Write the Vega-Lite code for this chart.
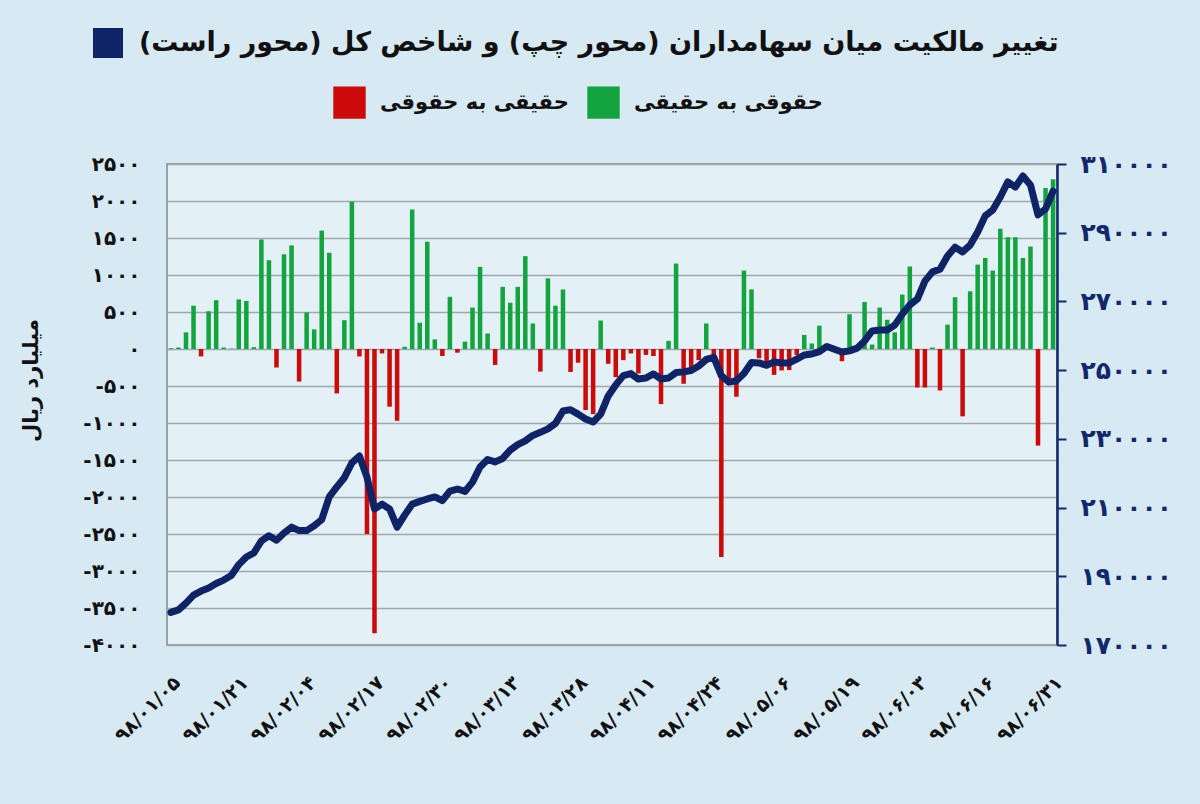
{
  "$schema": "https://vega.github.io/schema/vega-lite/v6.json",
  "width": 890,
  "height": 481,
  "autosize": {"type": "none"},
  "padding": {"left": 167, "top": 164, "right": 143, "bottom": 159},
  "background": "#d7e9f2",
  "config": {
    "font": "DejaVu Sans",
    "view": {"fill": "#e3f0f6", "stroke": "#97a2a8", "strokeWidth": 2}
  },
  "data": {
    "values": [
      {"date": "۹۸/۰۱/۰۵", "flow": 10, "index": 179500},
      {"date": "۹۸/۰۱/۰۶", "flow": 20, "index": 180200},
      {"date": "۹۸/۰۱/۰۷", "flow": 225, "index": 182200},
      {"date": "۹۸/۰۱/۱۰", "flow": 585, "index": 184500},
      {"date": "۹۸/۰۱/۱۱", "flow": -100, "index": 185700},
      {"date": "۹۸/۰۱/۱۷", "flow": 510, "index": 186600},
      {"date": "۹۸/۰۱/۱۸", "flow": 660, "index": 187900},
      {"date": "۹۸/۰۱/۱۹", "flow": 20, "index": 188900},
      {"date": "۹۸/۰۱/۲۰", "flow": 5, "index": 190200},
      {"date": "۹۸/۰۱/۲۱", "flow": 670, "index": 193400},
      {"date": "۹۸/۰۱/۲۴", "flow": 650, "index": 195600},
      {"date": "۹۸/۰۱/۲۵", "flow": 25, "index": 196800},
      {"date": "۹۸/۰۱/۲۶", "flow": 1480, "index": 200300},
      {"date": "۹۸/۰۱/۲۷", "flow": 1200, "index": 201800},
      {"date": "۹۸/۰۱/۲۸", "flow": -250, "index": 200500},
      {"date": "۹۸/۰۲/۰۱", "flow": 1280, "index": 202600},
      {"date": "۹۸/۰۲/۰۲", "flow": 1400, "index": 204300},
      {"date": "۹۸/۰۲/۰۳", "flow": -440, "index": 203300},
      {"date": "۹۸/۰۲/۰۴", "flow": 495, "index": 203300},
      {"date": "۹۸/۰۲/۰۷", "flow": 265, "index": 204700},
      {"date": "۹۸/۰۲/۰۸", "flow": 1600, "index": 206500},
      {"date": "۹۸/۰۲/۰۹", "flow": 1300, "index": 213100},
      {"date": "۹۸/۰۲/۱۰", "flow": -600, "index": 216000},
      {"date": "۹۸/۰۲/۱۱", "flow": 390, "index": 218700},
      {"date": "۹۸/۰۲/۱۴", "flow": 1990, "index": 223000},
      {"date": "۹۸/۰۲/۱۵", "flow": -100, "index": 225000},
      {"date": "۹۸/۰۲/۱۶", "flow": -2500, "index": 218900},
      {"date": "۹۸/۰۲/۱۷", "flow": -3840, "index": 209600},
      {"date": "۹۸/۰۲/۱۸", "flow": -60, "index": 211000},
      {"date": "۹۸/۰۲/۲۱", "flow": -780, "index": 209600},
      {"date": "۹۸/۰۲/۲۲", "flow": -970, "index": 204300},
      {"date": "۹۸/۰۲/۲۳", "flow": 30, "index": 207800},
      {"date": "۹۸/۰۲/۲۴", "flow": 1885, "index": 211000},
      {"date": "۹۸/۰۲/۲۵", "flow": 355, "index": 211800},
      {"date": "۹۸/۰۲/۲۸", "flow": 1450, "index": 212500},
      {"date": "۹۸/۰۲/۲۹", "flow": 130, "index": 213100},
      {"date": "۹۸/۰۲/۳۰", "flow": -95, "index": 212000},
      {"date": "۹۸/۰۲/۳۱", "flow": 705, "index": 214800},
      {"date": "۹۸/۰۳/۰۱", "flow": -50, "index": 215400},
      {"date": "۹۸/۰۳/۰۴", "flow": 100, "index": 214700},
      {"date": "۹۸/۰۳/۰۵", "flow": 560, "index": 217400},
      {"date": "۹۸/۰۳/۰۷", "flow": 1110, "index": 221800},
      {"date": "۹۸/۰۳/۰۸", "flow": 210, "index": 224000},
      {"date": "۹۸/۰۳/۱۱", "flow": -215, "index": 223300},
      {"date": "۹۸/۰۳/۱۲", "flow": 840, "index": 224300},
      {"date": "۹۸/۰۳/۱۳", "flow": 625, "index": 226700},
      {"date": "۹۸/۰۳/۱۸", "flow": 840, "index": 228300},
      {"date": "۹۸/۰۳/۱۹", "flow": 1255, "index": 229400},
      {"date": "۹۸/۰۳/۲۰", "flow": 345, "index": 231000},
      {"date": "۹۸/۰۳/۲۱", "flow": -305, "index": 231900},
      {"date": "۹۸/۰۳/۲۲", "flow": 955, "index": 232900},
      {"date": "۹۸/۰۳/۲۵", "flow": 585, "index": 234500},
      {"date": "۹۸/۰۳/۲۶", "flow": 805, "index": 238100},
      {"date": "۹۸/۰۳/۲۷", "flow": -310, "index": 238500},
      {"date": "۹۸/۰۳/۲۸", "flow": -185, "index": 237200},
      {"date": "۹۸/۰۳/۲۹", "flow": -825, "index": 235800},
      {"date": "۹۸/۰۴/۰۱", "flow": -880, "index": 234900},
      {"date": "۹۸/۰۴/۰۲", "flow": 385, "index": 237200},
      {"date": "۹۸/۰۴/۰۳", "flow": -200, "index": 242500},
      {"date": "۹۸/۰۴/۰۴", "flow": -380, "index": 245700},
      {"date": "۹۸/۰۴/۰۸", "flow": -150, "index": 248400},
      {"date": "۹۸/۰۴/۰۹", "flow": -60, "index": 249000},
      {"date": "۹۸/۰۴/۱۰", "flow": -330, "index": 247400},
      {"date": "۹۸/۰۴/۱۱", "flow": -80, "index": 247700},
      {"date": "۹۸/۰۴/۱۲", "flow": -95, "index": 248900},
      {"date": "۹۸/۰۴/۱۵", "flow": -745, "index": 247400},
      {"date": "۹۸/۰۴/۱۶", "flow": 110, "index": 247700},
      {"date": "۹۸/۰۴/۱۷", "flow": 1155, "index": 249300},
      {"date": "۹۸/۰۴/۱۸", "flow": -470, "index": 249500},
      {"date": "۹۸/۰۴/۱۹", "flow": -275, "index": 249900},
      {"date": "۹۸/۰۴/۲۲", "flow": -150, "index": 251200},
      {"date": "۹۸/۰۴/۲۳", "flow": 345, "index": 253100},
      {"date": "۹۸/۰۴/۲۴", "flow": -95, "index": 253700},
      {"date": "۹۸/۰۴/۲۵", "flow": -2810, "index": 248400},
      {"date": "۹۸/۰۴/۲۶", "flow": -395, "index": 246500},
      {"date": "۹۸/۰۴/۲۹", "flow": -645, "index": 246900},
      {"date": "۹۸/۰۴/۳۰", "flow": 1060, "index": 249000},
      {"date": "۹۸/۰۴/۳۱", "flow": 805, "index": 252200},
      {"date": "۹۸/۰۵/۰۱", "flow": -125, "index": 252100},
      {"date": "۹۸/۰۵/۰۲", "flow": -215, "index": 251400},
      {"date": "۹۸/۰۵/۰۵", "flow": -350, "index": 252400},
      {"date": "۹۸/۰۵/۰۶", "flow": -290, "index": 252100},
      {"date": "۹۸/۰۵/۰۷", "flow": -285, "index": 252100},
      {"date": "۹۸/۰۵/۰۸", "flow": -80, "index": 253200},
      {"date": "۹۸/۰۵/۰۹", "flow": 190, "index": 254400},
      {"date": "۹۸/۰۵/۱۲", "flow": 75, "index": 254700},
      {"date": "۹۸/۰۵/۱۳", "flow": 315, "index": 255400},
      {"date": "۹۸/۰۵/۱۴", "flow": 40, "index": 256900},
      {"date": "۹۸/۰۵/۱۵", "flow": 20, "index": 256100},
      {"date": "۹۸/۰۵/۱۶", "flow": -165, "index": 255300},
      {"date": "۹۸/۰۵/۱۹", "flow": 470, "index": 255600},
      {"date": "۹۸/۰۵/۲۰", "flow": 10, "index": 256400},
      {"date": "۹۸/۰۵/۲۲", "flow": 635, "index": 258500},
      {"date": "۹۸/۰۵/۲۳", "flow": 60, "index": 261400},
      {"date": "۹۸/۰۵/۲۶", "flow": 560, "index": 261700},
      {"date": "۹۸/۰۵/۲۷", "flow": 395, "index": 261700},
      {"date": "۹۸/۰۵/۲۸", "flow": 225, "index": 263100},
      {"date": "۹۸/۰۵/۳۰", "flow": 735, "index": 266300},
      {"date": "۹۸/۰۶/۰۲", "flow": 1115, "index": 269000},
      {"date": "۹۸/۰۶/۰۳", "flow": -520, "index": 270700},
      {"date": "۹۸/۰۶/۰۴", "flow": -520, "index": 275900},
      {"date": "۹۸/۰۶/۰۵", "flow": 20, "index": 278600},
      {"date": "۹۸/۰۶/۰۶", "flow": -560, "index": 279400},
      {"date": "۹۸/۰۶/۰۹", "flow": 330, "index": 283200},
      {"date": "۹۸/۰۶/۱۰", "flow": 700, "index": 285800},
      {"date": "۹۸/۰۶/۱۱", "flow": -910, "index": 284400},
      {"date": "۹۸/۰۶/۱۲", "flow": 780, "index": 286400},
      {"date": "۹۸/۰۶/۱۳", "flow": 1140, "index": 290200},
      {"date": "۹۸/۰۶/۱۶", "flow": 1230, "index": 294900},
      {"date": "۹۸/۰۶/۱۷", "flow": 1060, "index": 296600},
      {"date": "۹۸/۰۶/۲۰", "flow": 1625, "index": 300400},
      {"date": "۹۸/۰۶/۲۳", "flow": 1510, "index": 304800},
      {"date": "۹۸/۰۶/۲۴", "flow": 1510, "index": 303300},
      {"date": "۹۸/۰۶/۲۵", "flow": 1230, "index": 306500},
      {"date": "۹۸/۰۶/۲۶", "flow": 1385, "index": 303900},
      {"date": "۹۸/۰۶/۲۷", "flow": -1305, "index": 295200},
      {"date": "۹۸/۰۶/۳۰", "flow": 2175, "index": 296900},
      {"date": "۹۸/۰۶/۳۱", "flow": 2295, "index": 302100}
    ]
  },
  "transform": [
    {"calculate": "datum.flow >= 0 ? 'حقوقی به حقیقی' : 'حقیقی به حقوقی'", "as": "type"}
  ],
  "encoding": {
    "x": {
      "field": "date",
      "type": "ordinal",
      "sort": null,
      "scale": {"paddingInner": 0.4, "paddingOuter": 0.22},
      "axis": {
        "title": null,
        "values": ["۹۸/۰۱/۰۵", "۹۸/۰۱/۲۱", "۹۸/۰۲/۰۴", "۹۸/۰۲/۱۷", "۹۸/۰۲/۳۰", "۹۸/۰۳/۱۳", "۹۸/۰۳/۲۸", "۹۸/۰۴/۱۱", "۹۸/۰۴/۲۴", "۹۸/۰۵/۰۶", "۹۸/۰۵/۱۹", "۹۸/۰۶/۰۳", "۹۸/۰۶/۱۶", "۹۸/۰۶/۳۱"],
        "labelAngle": -45,
        "labelFontSize": 19,
        "labelFontWeight": "bold",
        "labelColor": "#111111",
        "labelPadding": 28,
        "ticks": false,
        "domain": false
      }
    }
  },
  "layer": [
    {
      "mark": {"type": "bar"},
      "encoding": {
        "y": {
          "field": "flow",
          "type": "quantitative",
          "scale": {"domain": [-4000, 2500], "nice": false},
          "axis": {
            "title": "میلیارد ریال",
            "titleFontSize": 21,
            "titleFontWeight": "bold",
            "titleColor": "#111111",
            "titleX": -126,
            "titleY": 216,
            "values": [-4000, -3500, -3000, -2500, -2000, -1500, -1000, -500, 0, 500, 1000, 1500, 2000, 2500],
            "labelExpr": "replace(replace(replace(replace(replace(replace(replace(replace(replace(replace('' + datum.value, regexp('0', 'g'), '۰'), regexp('1', 'g'), '۱'), regexp('2', 'g'), '۲'), regexp('3', 'g'), '۳'), regexp('4', 'g'), '۴'), regexp('5', 'g'), '۵'), regexp('6', 'g'), '۶'), regexp('7', 'g'), '۷'), regexp('8', 'g'), '۸'), regexp('9', 'g'), '۹')",
            "labelFontSize": 20,
            "labelFontWeight": "bold",
            "labelColor": "#111111",
            "labelPadding": 27,
            "ticks": false,
            "domain": false,
            "grid": true,
            "gridColor": "#9ea8ad",
            "gridWidth": 1.5
          }
        },
        "color": {
          "field": "type",
          "type": "nominal",
          "scale": {
            "domain": ["حقیقی به حقوقی", "حقوقی به حقیقی"],
            "range": ["#cc0a0a", "#13a440"]
          },
          "legend": {
            "orient": "none",
            "legendX": 166,
            "legendY": -78,
            "direction": "horizontal",
            "title": null,
            "symbolType": "square",
            "symbolSize": 1050,
            "symbolStrokeWidth": 0,
            "labelFontSize": 21,
            "labelFontWeight": "bold",
            "labelColor": "#111111",
            "labelOffset": 14,
            "columnPadding": 18,
            "labelLimit": 400
          }
        }
      }
    },
    {
      "mark": {"type": "line", "strokeWidth": 7, "strokeJoin": "round", "strokeCap": "round"},
      "encoding": {
        "y": {
          "field": "index",
          "type": "quantitative",
          "scale": {"domain": [170000, 310000], "zero": false, "nice": false},
          "axis": {
            "orient": "right",
            "title": null,
            "values": [170000, 190000, 210000, 230000, 250000, 270000, 290000, 310000],
            "labelExpr": "replace(replace(replace(replace(replace(replace(replace(replace(replace(replace('' + datum.value, regexp('0', 'g'), '۰'), regexp('1', 'g'), '۱'), regexp('2', 'g'), '۲'), regexp('3', 'g'), '۳'), regexp('4', 'g'), '۴'), regexp('5', 'g'), '۵'), regexp('6', 'g'), '۶'), regexp('7', 'g'), '۷'), regexp('8', 'g'), '۸'), regexp('9', 'g'), '۹')",
            "labelFontSize": 25,
            "labelFontWeight": "bold",
            "labelColor": "#13286c",
            "labelPadding": 14,
            "domainColor": "#13286c",
            "domainWidth": 2.5,
            "tickColor": "#13286c",
            "tickWidth": 2,
            "tickSize": 9,
            "grid": false
          }
        },
        "stroke": {
          "datum": "تغییر مالکیت میان سهامداران (محور چپ) و شاخص کل (محور راست)",
          "type": "nominal",
          "scale": {"range": ["#0f2466"]},
          "legend": {
            "orient": "none",
            "legendX": -74,
            "legendY": -136,
            "title": null,
            "symbolType": "square",
            "symbolSize": 900,
            "symbolFillColor": "#0f2466",
            "symbolStrokeColor": "#0f2466",
            "symbolStrokeWidth": 0,
            "labelFontSize": 27,
            "labelFontWeight": "bold",
            "labelColor": "#111111",
            "labelOffset": 16,
            "labelLimit": 1100,
            "encode": {"symbols": {"update": {"fill": {"value": "#0f2466"}, "stroke": {"value": "#0f2466"}}}}
          }
        }
      }
    }
  ],
  "resolve": {"scale": {"y": "independent"}}
}
